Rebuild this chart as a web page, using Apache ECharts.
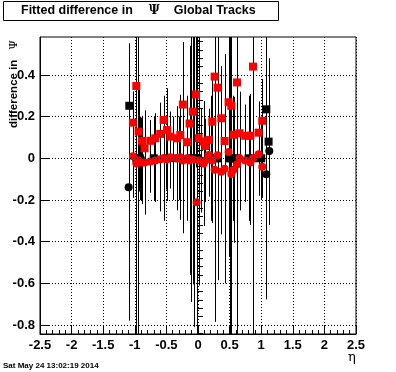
<!DOCTYPE html>
<html><head><meta charset="utf-8">
<script src="https://cdn.jsdelivr.net/npm/echarts@6/dist/echarts.min.js"></script>
<style>html,body{margin:0;padding:0;background:#fff}#c{width:396px;height:372px}</style>
</head><body><div id="c"></div>
<script>
// ---- data ----
const titleText = 'Fitted difference in';
const titleSym = 'Ψ';
const titleTail = 'Global Tracks';
const yTitle = 'difference in';
const xTitle = 'η';
const dateText = 'Sat May 24 13:02:19 2014';

const xTicks = [-2.5, -2, -1.5, -1, -0.5, 0, 0.5, 1, 1.5, 2, 2.5];
const yTicks = [-0.8, -0.6, -0.4, -0.2, 0, 0.2, 0.4];
const yMinorTicks = [-0.84, -0.76, -0.72, -0.68, -0.64, -0.56, -0.52, -0.48, -0.44, -0.36, -0.32, -0.28, -0.24,
  -0.16, -0.12, -0.08, -0.04, 0.04, 0.08, 0.12, 0.16, 0.24, 0.28, 0.32, 0.36, 0.44, 0.48, 0.52, 0.56];

// red squares
const rsqEta = [-1.03, -0.976, -0.94, -0.886, -0.845, -0.755, -0.676, -0.597, -0.544, -0.49, -0.437, -0.332, -0.28,
  -0.24, -0.174, -0.133, -0.082, -0.032, 0.01, 0.089, 0.116, 0.168, 0.226, 0.263, 0.31, 0.369, 0.421, 0.484, 0.527,
  0.563, 0.617, 0.657, 0.748, 0.828, 0.87, 0.959, 1.017];
const rsqVal = [0.171, 0.347, 0.128, 0.084, 0.048, 0.084, 0.096, 0.117, 0.184, 0.136, 0.104, 0.096, 0.112,
  0.258, 0.077, 0.167, 0.224, 0.306, 0.096, 0.08, 0.059, 0.088, 0.176, 0.392, 0.339, 0.192, 0.083, 0.269, 0.252,
  0.113, 0.364, 0.12, 0.108, 0.108, 0.44, 0.123, 0.18];
const rsqErr = [0.15, 0.25, 0.2, 0.12, 0.15, 0.1, 0.12, 0.15, 0.1, 0.2, 0.12, 0.1, 0.12,
  0.3, 0.15, 0.2, 0.3, 0.35, 0.1, 0.12, 0.1, 0.15, 0.2, 0.25, 0.3, 0.25, 0.15, 0.35, 0.3,
  0.15, 0.3, 0.2, 0.15, 0.2, 0.2, 0.15, 0.2];

// red circles
const rciEta = [-1.03, -0.976, -0.94, -0.886, -0.845, -0.755, -0.676, -0.597, -0.544, -0.49, -0.437, -0.332, -0.28,
  -0.24, -0.174, -0.133, -0.082, -0.022, 0.01, 0.089, 0.116, 0.168, 0.226, 0.263, 0.31, 0.369, 0.421, 0.484, 0.527,
  0.563, 0.617, 0.657, 0.748, 0.828, 0.87, 0.959, 1.017];
const rciVal = [0.01, -0.025, -0.01, -0.02, -0.02, -0.015, -0.01, -0.005, 0.0, -0.005, 0.005, 0.0, 0.005,
  -0.01, 0.0, -0.01, -0.005, -0.211, -0.01, -0.025, -0.01, 0.016, -0.01, -0.055, 0.015, -0.065, -0.05, 0.03, -0.075,
  -0.055, -0.03, 0.0, -0.01, -0.02, 0.0, 0.02, -0.04];
const rciErr = [0.2, 0.3, 0.15, 0.2, 0.25, 0.15, 0.2, 0.25, 0.3, 0.2, 0.15, 0.25, 0.3,
  0.35, 0.3, 0.55, 0.6, 0.25, 0.6, 0.3, 0.2, 0.2, 0.3, 0.35, 0.6, 0.3, 0.55, 0.5, 0.8,
  0.35, 0.3, 0.25, 0.2, 0.3, 0.2, 0.2, 0.15];

// black squares
const bsqEta = [-1.087, -0.976, -0.955, -0.92, -0.7, -0.5, -0.3, -0.11, -0.06, -0.01, 0.2, 0.27, 0.31, 0.5, 0.53,
  0.62, 0.8, 0.875, 1.0, 1.081, 1.117];
const bsqVal = [0.252, 0.0, 0.0, 0.0, 0.0, 0.0, 0.0, 0.0, 0.0, 0.0, 0.0, 0.0, 0.0, 0.0, 0.0,
  0.0, 0.0, 0.0, 0.0, 0.235, 0.08];
const bsqErr = [0.3, 1.0, 1.0, 0.2, 0.2, 0.15, 0.2, 0.69, 0.81, 1.0, 0.3, 0.785, 0.5, 1.0, 1.0,
  1.0, 0.3, 1.0, 0.2, 0.6, 0.4];

// black circles
const bciEta = [-1.098, -0.9, -0.4, 0.05, 0.55, 1.081, 1.128];
const bciVal = [-0.139, -0.005, 0.0, -0.01, 0.0, -0.077, 0.035];
const bciErr = [0.64, 0.2, 0.2, 0.25, 0.3, 0.6, 0.3];

// ---- chart ----
const chart = echarts.init(document.getElementById('c'), null, {renderer: 'canvas'});
const FONT = 'Liberation Sans';

function pts(xs, ys) { return xs.map((x, i) => [x, ys[i]]); }
function errSeries(xs, ys, es, z) {
  return {
    type: 'custom', z: z, clip: true, silent: true,
    data: xs.map((x, i) => [x, ys[i] - es[i], ys[i] + es[i]]),
    encode: {x: 0, y: [1, 2]},
    renderItem: function (params, api) {
      const lo = api.coord([api.value(0), api.value(1)]);
      const hi = api.coord([api.value(0), api.value(2)]);
      const px = Math.round(lo[0]) + 0.5;
      return {type: 'line', shape: {x1: px, y1: lo[1], x2: px, y2: hi[1]},
        style: {stroke: '#000', lineWidth: 1}};
    }
  };
}
function scat(xs, ys, sym, color, z) {
  return {type: 'scatter', z: z, symbol: sym, symbolSize: 8, silent: true,
    itemStyle: {color: color, opacity: 1}, data: pts(xs, ys)};
}

const option = {
  backgroundColor: '#fff',
  animation: false,
  title: [{
    text: '{a|' + titleText + '}{p|' + titleSym + '}{a|' + titleTail + '}',
    left: 3, top: 1, padding: [3, 23, 3, 18],
    borderColor: '#000', borderWidth: 1,
    textStyle: {
      rich: {
        a: {fontFamily: FONT, fontWeight: 'bold', fontSize: 12.5, color: '#000', lineHeight: 14},
        p: {fontFamily: 'DejaVu Serif', fontSize: 12, color: '#000', padding: [0, 14, 0, 16], lineHeight: 14}
      }
    }
  }],
  grid: {left: 40, right: 40, top: 37, bottom: 38, show: true, borderColor: '#000', borderWidth: 1,
    containLabel: false},
  xAxis: {
    type: 'value', min: xTicks[0], max: xTicks[xTicks.length - 1], interval: 0.5,
    axisLine: {show: true, onZero: false, lineStyle: {color: '#000', width: 1}},
    axisTick: {show: true, inside: true, length: 8, lineStyle: {color: '#000'}},
    minorTick: {show: true, splitNumber: 5, length: 4, lineStyle: {color: '#000'}},
    axisLabel: {color: '#000', fontFamily: FONT, fontWeight: 'bold', fontSize: 13, margin: 5,
      showMinLabel: true, showMaxLabel: true},
    splitLine: {show: true, lineStyle: {color: '#000', type: [1, 2], width: 1}}
  },
  yAxis: [{
    type: 'value', min: -0.843, max: 0.582,
    axisLine: {show: true, onZero: false, lineStyle: {color: '#000', width: 1}},
    axisTick: {show: true, inside: true, length: 9, customValues: yTicks, lineStyle: {color: '#000'}},
    axisLabel: {customValues: yTicks, color: '#000', fontFamily: FONT, fontWeight: 'bold', fontSize: 13, margin: 5},
    splitLine: {show: false}
  }, {
    type: 'value', min: -0.843, max: 0.582, position: 'left', offset: 0,
    axisLine: {show: false},
    axisTick: {show: true, inside: true, length: 5, customValues: yMinorTicks, lineStyle: {color: '#000'}},
    axisLabel: {show: false},
    splitLine: {show: false}
  }],
  graphic: [
    {type: 'text', x: 14, y: 40, rotation: Math.PI / 2,
      style: {text: '{a|' + yTitle + '}{p|' + titleSym + '}', align: 'right', verticalAlign: 'middle',
        rich: {
          a: {fontFamily: FONT, fontWeight: 'bold', fontSize: 11.5, fill: '#000'},
          p: {fontFamily: 'DejaVu Serif', fontSize: 11, fill: '#000', padding: [0, 0, 0, 10]}
        }}},
    {type: 'text', x: 352, y: 358,
      style: {text: xTitle, font: '13px "DejaVu Serif"', fill: '#000', align: 'center', verticalAlign: 'middle'}},
    {type: 'text', x: 3, y: 366,
      style: {text: dateText, font: 'bold 8px "Liberation Sans"', fill: '#000', align: 'left', verticalAlign: 'middle'}}
  ],
  series: [
    {type: 'line', data: [], z: 1, silent: true,
      markLine: {silent: true, symbol: 'none', label: {show: false},
        lineStyle: {color: '#000', type: [1, 2], width: 1},
        data: yTicks.map(v => ({yAxis: v}))}},
    errSeries(bsqEta, bsqVal, bsqErr, 2),
    errSeries(bciEta, bciVal, bciErr, 2),
    errSeries(rciEta, rciVal, rciErr, 2),
    errSeries(rsqEta, rsqVal, rsqErr, 2),
    scat(bsqEta, bsqVal, 'rect', '#000', 3),
    scat(bciEta, bciVal, 'circle', '#000', 3),
    scat(rciEta, rciVal, 'circle', '#ff0000', 4),
    scat(rsqEta, rsqVal, 'rect', '#ff0000', 5)
  ]
};
chart.setOption(option);
</script>
</body></html>
